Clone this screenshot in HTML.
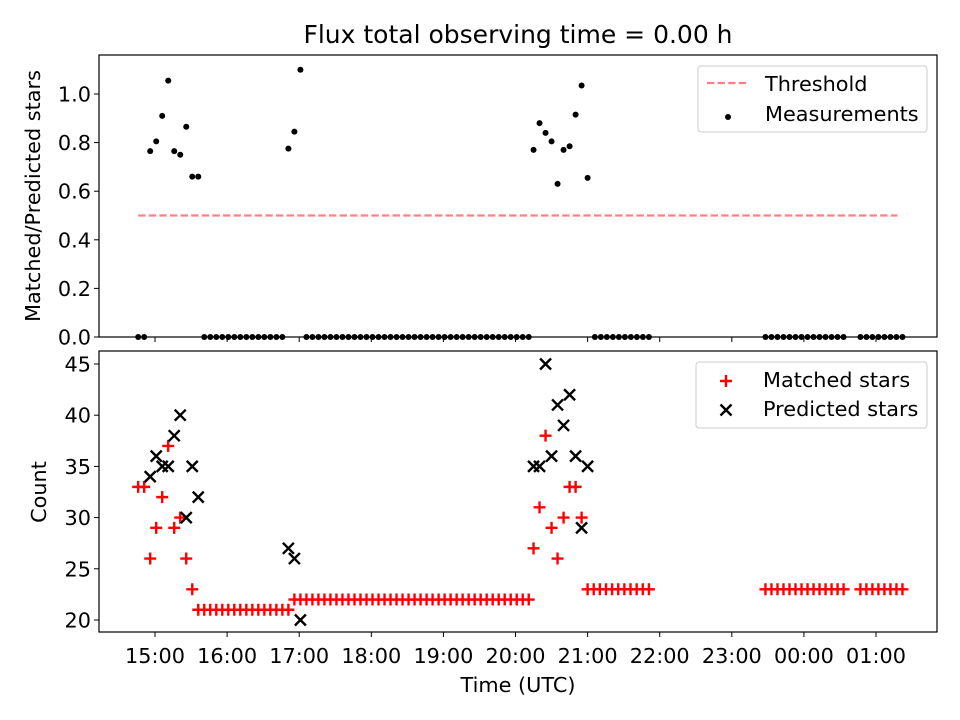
<!DOCTYPE html>
<html><head><meta charset="utf-8"><style>
body{margin:0;background:#fff}
svg{display:block;font-family:"DejaVu Sans","Liberation Sans",sans-serif}
</style></head><body>
<svg id="fig" width="960" height="720" viewBox="0 0 960 720" xmlns="http://www.w3.org/2000/svg"></svg>
<script>
// minutes relative to 15:00 UTC
const ratioTimes = [-4,1,6,11,16,21,26,31,36,111,116,121,315,320,325,330,335,340,345,350,355,360];
const ratioValues = [0.765,0.805,0.91,1.055,0.765,0.75,0.865,0.66,0.66,0.775,0.845,1.10,0.77,0.88,0.84,0.805,0.63,0.77,0.785,0.915,1.035,0.655];
const zeroGroups = [[-14,-9,2],[41,106,14],[126,311,38],[366,411,10],[508,573,14],[587,622,8]];
const threshold = 0.5;
const matchedTimes = [-14,-9,-4,1,6,11,16,21,26,31, 315,320,325,330,335,340,345,350,355, 116,121];
const matchedValues = [33,33,26,29,32,37,29,30,26,23, 27,31,38,29,26,30,33,33,30, 22,22];
const matchedRows = [[36,111,16,21],[126,311,38,22],[360,411,11,23],[508,573,14,23],[587,622,8,23]];
const predictedTimes = [-4,1,6,11,16,21,26,31,36,111,116,121,315,320,325,330,335,340,345,350,355,360];
const predictedValues = [34,36,35,35,38,40,30,35,32,27,26,20,35,35,45,36,41,39,42,36,29,35];
const xTickLabels = ["15:00","16:00","17:00","18:00","19:00","20:00","21:00","22:00","23:00","00:00","01:00"];
const topTicks = [0.0,0.2,0.4,0.6,0.8,1.0];
const botTicks = [20,25,30,35,40,45];

const NS="http://www.w3.org/2000/svg";
const svg=document.getElementById('fig');
function mk(tag,attrs,parent){const e=document.createElementNS(NS,tag);for(const k in attrs)e.setAttribute(k,attrs[k]);(parent||svg).appendChild(e);return e;}
const X0=99,X1=937;
const FS='20.8';
const xs=t=>155+t*1.2017;
const yTop=v=>337-v*243;
const yBot=v=>620-(v-20)*10.24;
function expand(g){const a=[];for(let i=0;i<g[2];i++)a.push(g[0]+(g[1]-g[0])*(g[2]>1?i/(g[2]-1):0));return a;}

const topAx=mk('g',{});


const botAx=mk('g',{});



const title=mk('text',{x:518,y:43,'text-anchor':'middle','font-size':'25'});
title.textContent='Flux total observing time = 0.00 h';



topTicks.forEach(v=>{const y=yTop(v);mk('line',{x1:X0-5,x2:X0,y1:y,y2:y,stroke:'#000'},topAx);
 const t=mk('text',{x:X0-8,y:y+7.5,'text-anchor':'end','font-size':FS},topAx);t.textContent=v.toFixed(1);
 
 });
botTicks.forEach(v=>{const y=yBot(v);mk('line',{x1:X0-5,x2:X0,y1:y,y2:y,stroke:'#000'},botAx);
 const t=mk('text',{x:X0-8,y:y+7.5,'text-anchor':'end','font-size':FS},botAx);t.textContent=v;
 
 });
xTickLabels.forEach((l,i)=>{const x=xs(i*60);
 mk('line',{x1:x,x2:x,y1:337,y2:342,stroke:'#000'},topAx);
 mk('line',{x1:x,x2:x,y1:632,y2:637,stroke:'#000'},botAx);
 const t=mk('text',{x:x,y:663,'text-anchor':'middle','font-size':FS},botAx);t.textContent=l;
 
 });

let yl=mk('text',{transform:'translate(40,196) rotate(-90)','text-anchor':'middle','font-size':FS});yl.textContent='Matched/Predicted stars';


yl=mk('text',{transform:'translate(46,492) rotate(-90)','text-anchor':'middle','font-size':FS});yl.textContent='Count';


const xl=mk('text',{x:518,y:692,'text-anchor':'middle','font-size':FS});xl.textContent='Time (UTC)';



const allZero=[];zeroGroups.forEach(g=>allZero.push(...expand(g)));
const tmin=Math.min(...allZero,...ratioTimes),tmax=Math.max(...allZero,...ratioTimes);
const th=mk('line',{x1:xs(tmin),x2:xs(tmax)-5,y1:yTop(threshold),y2:yTop(threshold),stroke:'#ff8080','stroke-width':2.2,'stroke-dasharray':'7.4,3.2'});



function dot(t,v){const c=mk('circle',{cx:xs(t),cy:yTop(v),r:3,fill:'#000'});
 
 }
ratioTimes.forEach((t,i)=>dot(t,ratioValues[i]));
allZero.forEach(t=>dot(t,0));

function plus(t,v){const x=xs(t),y=yBot(v);const p=mk('path',{d:`M${x-6} ${y}H${x+6}M${x} ${y-6}V${y+6}`,stroke:'#f00','stroke-width':2.4});
 
 }
function cross(t,v){const x=xs(t),y=yBot(v);const p=mk('path',{d:`M${x-5.5} ${y-5.5}L${x+5.5} ${y+5.5}M${x-5.5} ${y+5.5}L${x+5.5} ${y-5.5}`,stroke:'#000','stroke-width':2.4});
 
 }
matchedTimes.forEach((t,i)=>plus(t,matchedValues[i]));
matchedRows.forEach(r=>expand(r).forEach(t=>plus(t,r[3])));
predictedTimes.forEach((t,i)=>cross(t,predictedValues[i]));

mk('rect',{x:X0,y:55,width:X1-X0,height:282,fill:'none',stroke:'#000','stroke-width':1.2},topAx);
mk('rect',{x:X0,y:351,width:X1-X0,height:281,fill:'none',stroke:'#000','stroke-width':1.2},botAx);

const lg1=mk('g',{});


mk('rect',{x:698,y:66,width:229,height:66,rx:3,fill:'#fff',stroke:'#ccc'},lg1);
mk('line',{x1:707,x2:748,y1:83,y2:83,stroke:'#ff8080','stroke-width':2.2,'stroke-dasharray':'7.4,3.2'},lg1);
let t=mk('text',{x:765,y:91,'font-size':FS},lg1);t.textContent='Threshold';
mk('circle',{cx:728,cy:117,r:3,fill:'#000'},lg1);
t=mk('text',{x:765,y:121,'font-size':FS},lg1);t.textContent='Measurements';
const lg2=mk('g',{});


mk('rect',{x:696,y:362,width:231,height:66,rx:3,fill:'#fff',stroke:'#ccc'},lg2);
mk('path',{d:'M720 381H732M726 375V387',stroke:'#f00','stroke-width':2.4},lg2);
t=mk('text',{x:763,y:387,'font-size':FS},lg2);t.textContent='Matched stars';
mk('path',{d:'M720.5 404.5L731.5 415.5M720.5 415.5L731.5 404.5',stroke:'#000','stroke-width':2.4},lg2);
t=mk('text',{x:763,y:416,'font-size':FS},lg2);t.textContent='Predicted stars';
</script>
</body></html>
